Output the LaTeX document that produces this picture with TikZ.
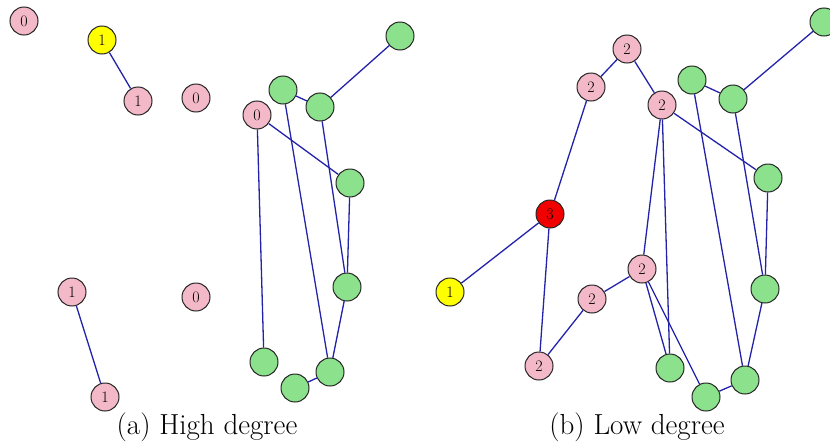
\documentclass[tikz,border=0pt]{standalone}
\usepackage{xcolor}
\definecolor{nodepink}{RGB}{243,185,200}
\definecolor{nodegreen}{RGB}{140,225,140}
\definecolor{nodeyellow}{RGB}{255,255,0}
\definecolor{nodered}{RGB}{240,0,0}
\definecolor{edgeblue}{RGB}{35,35,170}
\begin{document}
\begin{tikzpicture}[x=1pt,y=-1pt,
  vtx/.style={circle,draw=black!85,line width=1pt,minimum size=28pt,inner sep=0pt,font=\fontsize{16}{16}\selectfont},
  pk/.style={vtx,fill=nodepink},
  gr/.style={vtx,fill=nodegreen},
  yl/.style={vtx,fill=nodeyellow},
  rd/.style={vtx,fill=nodered},
  edge/.style={draw=edgeblue,line width=1.3pt},
  captext/.style={font=\fontsize{29}{34}\selectfont,inner sep=0pt}]
\useasboundingbox[fill=white] (0,0) rectangle (830,442);
% ---------- (a) ----------
\node[pk] (a0a) at (24,21) {0};
\node[yl] (a1y) at (102,40) {1};
\node[pk] (a1a) at (138,101) {1};
\node[pk] (a0b) at (196,98) {0};
\node[pk] (a0c) at (257,115) {0};
\node[gr] (ag1) at (283,90) {};
\node[gr] (ag2) at (320,107) {};
\node[gr] (ag3) at (400,36) {};
\node[gr] (ag4) at (350,183) {};
\node[gr] (ag5) at (347,287) {};
\node[gr] (ag6) at (264,362) {};
\node[gr] (ag7) at (295,388) {};
\node[gr] (ag8) at (330,372) {};
\node[pk] (a1b) at (72,292) {1};
\node[pk] (a1c) at (105,397) {1};
\node[pk] (a0d) at (196,297) {0};
\draw[edge] (a1y) -- (a1a);
\draw[edge] (a1b) -- (a1c);
\draw[edge] (ag3) -- (ag2);
\draw[edge] (ag1) -- (ag2);
\draw[edge] (a0c) -- (ag4);
\draw[edge] (a0c) -- (ag6);
\draw[edge] (ag1) -- (ag8);
\draw[edge] (ag2) -- (ag5);
\draw[edge] (ag4) -- (ag5);
\draw[edge] (ag5) -- (ag8);
\draw[edge] (ag7) -- (ag8);
% ---------- (b) ----------
\node[pk] (b2a) at (627,49) {2};
\node[pk] (b2b) at (591,87) {2};
\node[pk] (b2c) at (662,105) {2};
\node[gr] (bg1) at (692,80) {};
\node[gr] (bg2) at (733,99) {};
\node[gr] (bg3) at (824,22) {};
\node[gr] (bg4) at (768,178) {};
\node[rd] (b3) at (550,214) {3};
\node[yl] (b1y) at (450,292) {1};
\node[pk] (b2d) at (592,299) {2};
\node[pk] (b2e) at (642,269) {2};
\node[pk] (b2f) at (539,366) {2};
\node[gr] (bg5) at (765,289) {};
\node[gr] (bg6) at (670,368) {};
\node[gr] (bg7) at (706,397) {};
\node[gr] (bg8) at (745,380) {};
\draw[edge] (b2b) -- (b2a);
\draw[edge] (b2a) -- (b2c);
\draw[edge] (b2b) -- (b3);
\draw[edge] (b3) -- (b1y);
\draw[edge] (b3) -- (b2f);
\draw[edge] (b2f) -- (b2d);
\draw[edge] (b2d) -- (b2e);
\draw[edge] (b2c) -- (bg4);
\draw[edge] (b2c) -- (b2e);
\draw[edge] (b2c) -- (bg6);
\draw[edge] (bg1) -- (bg2);
\draw[edge] (bg2) -- (bg3);
\draw[edge] (bg1) -- (bg8);
\draw[edge] (bg2) -- (bg5);
\draw[edge] (bg4) -- (bg5);
\draw[edge] (bg5) -- (bg8);
\draw[edge] (b2e) -- (bg6);
\draw[edge] (b2e) -- (bg7);
\draw[edge] (bg7) -- (bg8);
% captions
\node[captext] (capa) at (207,427) {(a) High degree};
\node[captext] (capb) at (637,427) {(b) Low degree};
\end{tikzpicture}
\end{document}
